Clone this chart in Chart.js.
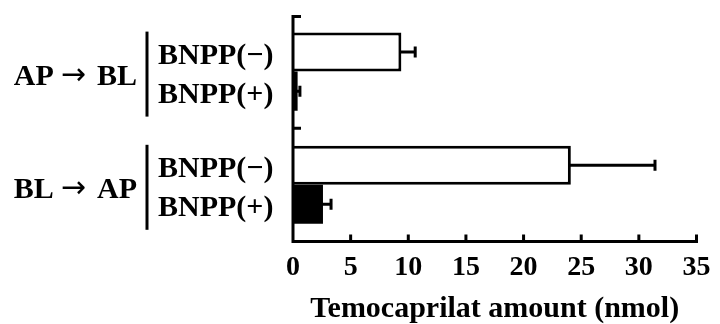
<!DOCTYPE html>
<html>
<head>
<meta charset="utf-8">
<script src="https://cdn.jsdelivr.net/npm/chart.js@4/dist/chart.umd.min.js"></script>
<style>
  html, body { margin: 0; padding: 0; background: #fff; }
  #wrap { width: 720px; height: 324px; }
</style>
</head>
<body>
<div id="wrap"><canvas id="c" width="720" height="324"></canvas></div>
<script>
const categories = ['AP \u2192 BL', 'BL \u2192 AP'];
const seriesNames = ['BNPP(\u2212)', 'BNPP(+)'];
const valuesMinus = [9.4, 24.1];
const valuesPlus = [0.4, 2.6];
const errorMinus = [1.2, 7.3];
const errorPlus = [0.2, 0.7];
const xTicks = [0, 5, 10, 15, 20, 25, 30, 35];
const xTitle = 'Temocaprilat amount (nmol)';

const FONT = '"Liberation Serif", "Times New Roman", serif';
const ARROW_FONT = '30px "DejaVu Sans", sans-serif';

function drawGroupLabel(ctx, text, right, baseline) {
  // split around the arrow so the arrow can use a font with a long arrow glyph
  const idx = text.indexOf('\u2192');
  const a = text.slice(0, idx).trim();
  const b = text.slice(idx + 1).trim();
  const mainFont = 'bold 30px ' + FONT;
  ctx.font = mainFont;
  const wb = ctx.measureText(b).width;
  const wa = ctx.measureText(a).width;
  ctx.font = ARROW_FONT;
  const warr = ctx.measureText('\u2192').width;
  let x = right - wb;
  ctx.textAlign = 'left';
  ctx.font = mainFont;
  ctx.fillText(b, x, baseline);
  x -= 11 + warr;
  ctx.font = ARROW_FONT;
  ctx.fillText('\u2192', x, baseline - 1);
  x -= 7 + wa;
  ctx.font = mainFont;
  ctx.fillText(a, x, baseline);
}

const overlay = {
  id: 'overlay',
  afterDatasetsDraw(chart) {
    const ctx = chart.ctx;
    const area = chart.chartArea;
    const xs = chart.scales.x, ys = chart.scales.y;
    ctx.save();
    ctx.strokeStyle = '#000';
    ctx.fillStyle = '#000';
    ctx.lineWidth = 3;
    ctx.lineCap = 'butt';
    // error bars
    const errs = [errorMinus, errorPlus];
    const vals = [valuesMinus, valuesPlus];
    for (let d = 0; d < 2; d++) {
      const meta = chart.getDatasetMeta(d);
      meta.data.forEach((bar, i) => {
        const x0 = xs.getPixelForValue(vals[d][i]);
        const x1 = xs.getPixelForValue(vals[d][i] + errs[d][i]);
        const y = bar.y;
        ctx.beginPath();
        ctx.moveTo(x0 - 1, y); ctx.lineTo(x1, y);
        ctx.moveTo(x1, y - 5.5); ctx.lineTo(x1, y + 5.5);
        ctx.stroke();
      });
    }
    // axes
    const left = area.left, bottom = area.bottom, top = area.top;
    ctx.beginPath();
    ctx.moveTo(left, top); ctx.lineTo(left, bottom + 1.5);
    ctx.moveTo(left - 1.5, bottom); ctx.lineTo(xs.getPixelForValue(35) + 1.5, bottom);
    ctx.stroke();
    // x ticks (inward)
    ctx.beginPath();
    xTicks.forEach(v => {
      const px = xs.getPixelForValue(v);
      if (v === 0) return;
      ctx.moveTo(px, bottom); ctx.lineTo(px, bottom - 7);
    });
    // y ticks at category boundaries (inward)
    const boundaries = [top + 1.5, (ys.getPixelForValue(0) + ys.getPixelForValue(1)) / 2];
    boundaries.forEach(py => { ctx.moveTo(left, py); ctx.lineTo(left + 8, py); });
    ctx.stroke();

    // left labels
    ctx.textBaseline = 'alphabetic';
    categories.forEach((cat, i) => {
      const cy = ys.getPixelForValue(i);
      drawGroupLabel(ctx, cat, 137, cy + 13);
      ctx.beginPath();
      ctx.moveTo(147, cy - 40); ctx.lineTo(147, cy + 45);
      ctx.stroke();
      ctx.font = 'bold 30px ' + FONT;
      ctx.textAlign = 'left';
      for (let d = 0; d < 2; d++) {
        const bar = chart.getDatasetMeta(d).data[i];
        ctx.fillText(seriesNames[d], 158, bar.y + 12);
      }
    });
    ctx.restore();
  }
};

new Chart(document.getElementById('c'), {
  type: 'bar',
  data: {
    labels: categories,
    datasets: [
      { label: seriesNames[0], data: valuesMinus, backgroundColor: '#fff', borderColor: '#000', borderWidth: 3, borderSkipped: 'start' },
      { label: seriesNames[1], data: valuesPlus, backgroundColor: '#000', borderColor: '#000', borderWidth: 0 }
    ]
  },
  options: {
    indexAxis: 'y',
    responsive: false,
    animation: false,
    devicePixelRatio: 1,
    categoryPercentage: 0.69,
    barPercentage: 1,
    layout: { padding: { left: 293, right: 17, top: 15, bottom: 0 } },
    plugins: { legend: { display: false }, tooltip: { enabled: false } },
    scales: {
      y: { display: false, offset: true },
      x: {
        min: 0, max: 35,
        afterBuildTicks: (s) => { s.ticks = xTicks.map(v => ({ value: v })); },
        grid: { display: false, drawTicks: false, tickLength: 0 },
        border: { display: false },
        ticks: { color: '#000', padding: 9.5, font: { family: FONT, size: 28, weight: 'bold' }, maxRotation: 0, autoSkip: false },
        title: { display: true, text: xTitle, color: '#000', padding: { top: 0, bottom: 0 }, font: { family: FONT, size: 30, weight: 'bold', lineHeight: 1.0 } }
      }
    }
  },
  plugins: [overlay]
});
</script>
</body>
</html>
